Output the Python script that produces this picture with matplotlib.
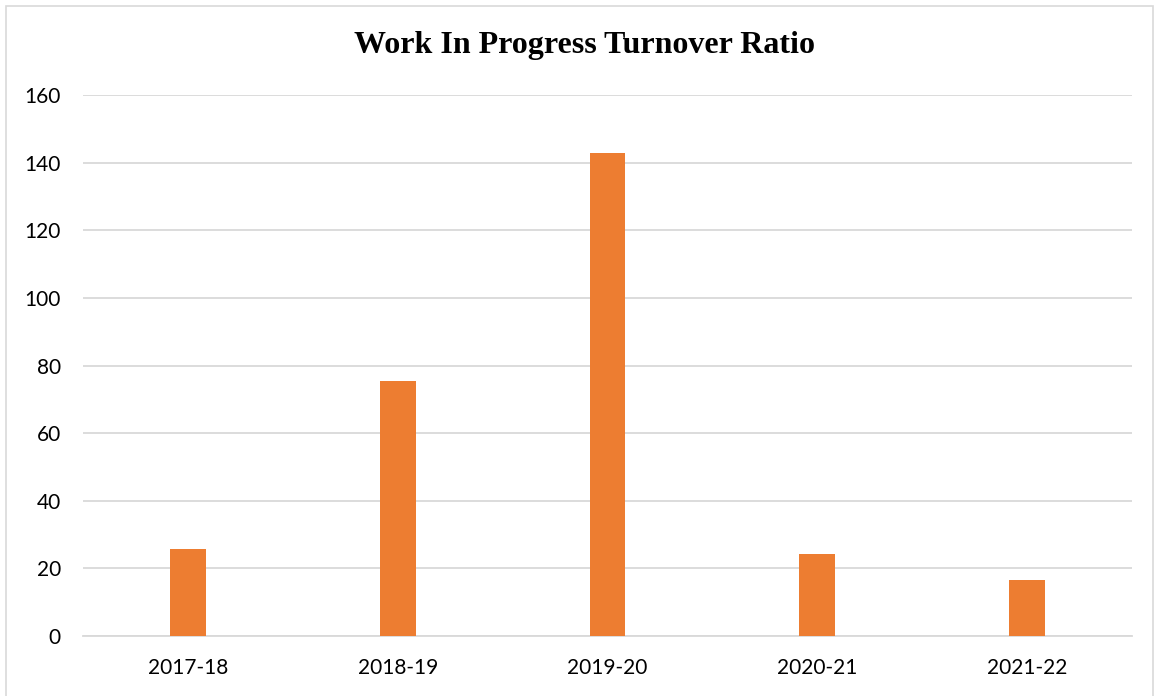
import matplotlib.pyplot as plt
from matplotlib.patches import Rectangle

years = ["2017-18", "2018-19", "2019-20", "2020-21", "2021-22"]
ratio = [25.7, 75.3, 142.8, 24.3, 16.7]
yticks = [0, 20, 40, 60, 80, 100, 120, 140, 160]

fig = plt.figure(figsize=(11.57, 6.96), dpi=100)
ax = fig.add_axes([83 / 1157, 1 - 636 / 696, 1049 / 1157, 541 / 696])

x = range(len(years))
ax.bar(x, ratio, width=0.17, color="#ED7D31", zorder=3)

ax.set_xlim(-0.5, len(years) - 0.5)
ax.set_ylim(0, 160)
ax.set_yticks(yticks)
ax.set_xticks(list(x))
ax.set_xticklabels(years)
ax.grid(axis="y", color="#d9d9d9", linewidth=1.3, zorder=0)
for s in ["top", "right", "left"]:
    ax.spines[s].set_visible(False)
ax.spines["bottom"].set_color("#d9d9d9")
ax.spines["bottom"].set_linewidth(1.3)
ax.tick_params(length=0, labelsize=15, colors="#000000")
for lab in ax.get_xticklabels() + ax.get_yticklabels():
    lab.set_family("Lato")
ax.tick_params(axis="x", pad=16)
ax.tick_params(axis="y", pad=16)

fig.text(585 / 1157, 1 - 46 / 696, "Work In Progress Turnover Ratio", ha="center", va="center",
         fontsize=23, fontweight="bold", family="Liberation Serif")

# light frame round the whole chart
fig.patches.append(Rectangle((6 / 1157, -0.02), 1147 / 1157, 1.02 - 6 / 696, transform=fig.transFigure,
                             fill=False, edgecolor="#d9d9d9", linewidth=1.2))

fig.savefig("out.png", dpi=100)
